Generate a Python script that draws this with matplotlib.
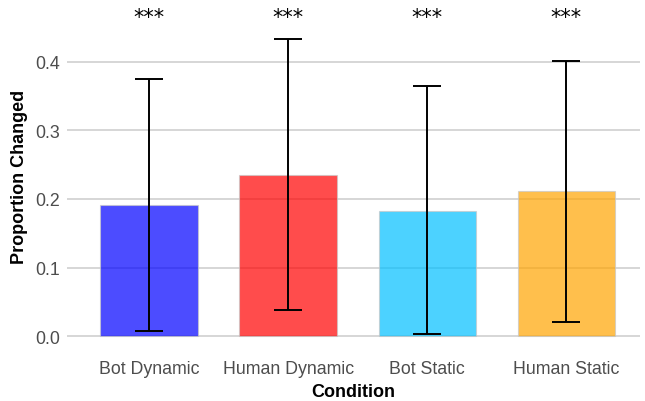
import numpy as np
import matplotlib
matplotlib.use("Agg")
import matplotlib.pyplot as plt

conditions = ["Bot Dynamic", "Human Dynamic", "Bot Static", "Human Static"]
proportions = [0.191, 0.235, 0.183, 0.212]
ci_low = [0.008, 0.038, 0.003, 0.021]
ci_high = [0.375, 0.433, 0.364, 0.401]
stars = ["***", "***", "***", "***"]
star_y = 0.456
colors = ["#0000FF", "#FF0000", "#00BFFF", "#FFA500"]

plt.rcParams["font.family"] = ["Liberation Sans", "DejaVu Sans"]

fig = plt.figure(figsize=(6.45, 4.02), dpi=100)
ax = fig.add_axes([67 / 645, 1 - 353 / 402, (640 - 67) / 645, 352 / 402])

x = np.arange(1, len(conditions) + 1)
ax.bar(x, proportions, width=0.7, color=colors, alpha=0.7,
       edgecolor="#c8c8c8", linewidth=0.8, zorder=2)
yerr = [np.array(proportions) - np.array(ci_low), np.array(ci_high) - np.array(proportions)]
ax.errorbar(x, proportions, yerr=yerr, fmt="none", ecolor="black",
            elinewidth=1.4, capsize=10, capthick=1.4, zorder=3)
for xi, s in zip(x, stars):
    ax.text(xi, star_y, s, ha="center", va="baseline", fontsize=15,
            color="black", family="DejaVu Sans")

ax.set_xlim(0.41, 4.53)
ax.set_ylim(-0.023, 0.49)
ax.set_yticks([0.0, 0.1, 0.2, 0.3, 0.4])
ax.set_yticklabels(["0.0", "0.1", "0.2", "0.3", "0.4"])
ax.set_xticks(x)
ax.set_xticklabels(conditions)
ax.grid(axis="y", which="major", color="#d6d6d6", linewidth=1.4, zorder=0)
ax.set_axisbelow(True)
for sp in ax.spines.values():
    sp.set_visible(False)
ax.tick_params(axis="both", which="both", length=0, labelsize=12.8, labelcolor="#4d4d4d")
ax.tick_params(axis="x", pad=6)
ax.tick_params(axis="y", pad=5)
ax.set_xlabel("Condition", fontsize=13, fontweight="bold", labelpad=4)
ax.set_ylabel("Proportion Changed", fontsize=13, fontweight="bold", labelpad=5)

fig.savefig("out.png", dpi=100)
